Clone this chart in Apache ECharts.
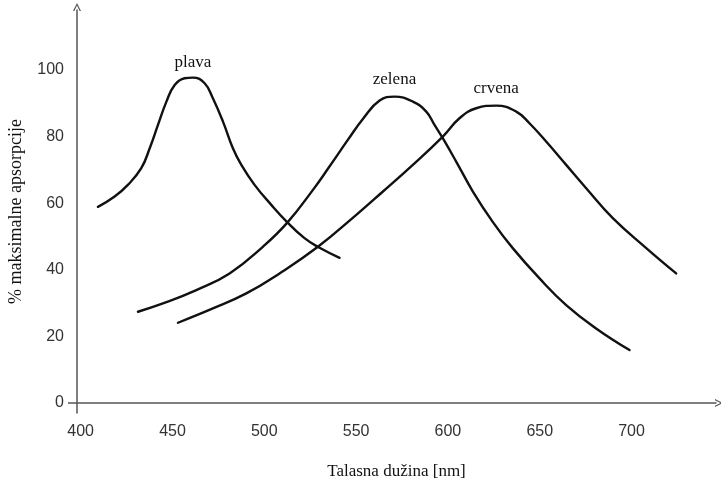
<!DOCTYPE html>
<html>
<head>
<meta charset="utf-8">
<script src="https://cdn.jsdelivr.net/npm/echarts@6/dist/echarts.min.js"></script>
<style>
html,body{margin:0;padding:0;background:#fff;}
#chart{width:721px;height:483px;}
</style>
</head>
<body>
<div id="chart"></div>
<script>
// Wavelength (nm) and % of maximal absorption for each cone type
var plavaX = [409.4, 418.5, 425.7, 433.0, 437.6, 442.1, 446.7, 451.2, 456.6, 461.1, 467.5, 472.0, 477.5, 482.9, 487.5, 494.7, 503.8, 512.3, 521.9, 530.1, 541.0];
var plavaY = [58.9, 62.0, 65.5, 70.5, 76.5, 83.5, 90.5, 95.5, 97.5, 97.7, 96.0, 91.5, 84.5, 76.5, 71.5, 65.5, 59.5, 54.4, 49.5, 46.6, 43.6];

var zelenaX = [431.2, 444.8, 463.0, 481.1, 499.2, 512.3, 526.5, 535.5, 545.5, 554.0, 562.8, 570.9, 580.9, 588.2, 592.7, 597.2, 604.5, 613.6, 624.4, 635.3, 649.9, 664.4, 680.7, 698.9];
var zelenaY = [27.4, 29.9, 33.9, 38.9, 46.9, 54.0, 64.0, 71.0, 79.0, 85.5, 90.8, 92.0, 90.5, 87.5, 83.5, 79.5, 72.5, 63.5, 54.4, 46.5, 37.4, 29.4, 22.4, 15.9];

var crvenaX = [453.0, 472.0, 490.2, 508.3, 529.2, 550.1, 564.0, 580.9, 597.2, 606.3, 615.4, 626.3, 637.2, 644.4, 653.5, 664.4, 675.3, 689.8, 708.0, 724.3];
var crvenaY = [24.1, 28.4, 32.9, 38.9, 46.9, 56.5, 63.2, 71.5, 80.0, 85.5, 88.5, 89.3, 87.5, 84.0, 78.5, 71.5, 64.5, 55.5, 46.5, 38.9];

var seriesNames = ['plava', 'zelena', 'crvena'];
var xTicks = [400, 450, 500, 550, 600, 650, 700];
var yTicks = [0, 20, 40, 60, 80, 100];

function zip(xs, ys) {
  return xs.map(function (x, i) { return [x, ys[i]]; });
}

var chart = echarts.init(document.getElementById('chart'), null, { renderer: 'canvas' });
var chevronUp = 'path://M0,10 L5,0 L10,10 L8.3,10 L5,3.2 L1.7,10 Z';

function mkSeries(name, xs, ys, labelDist) {
  return {
    name: name, type: 'line', smooth: 0.45, showSymbol: false, symbol: 'none',
    lineStyle: { color: '#111', width: 2.4, join: 'round', cap: 'round' },
    data: zip(xs, ys), silent: true, z: 3,
    markPoint: {
      silent: true, symbol: 'circle', symbolSize: 1,
      itemStyle: { color: 'rgba(0,0,0,0)' },
      label: {
        show: true, position: 'top', distance: labelDist, formatter: name,
        fontFamily: 'Liberation Serif', fontSize: 17, color: '#111'
      },
      data: [{ type: 'max' }]
    }
  };
}

chart.setOption({
  animation: false,
  backgroundColor: '#fff',
  grid: { left: 77, right: 5, top: 10, bottom: 70, containLabel: false, outerBoundsMode: 'none' },
  xAxis: {
    type: 'value', min: 398, max: 746,
    name: 'Talasna dužina [nm]', nameLocation: 'middle', nameGap: 50,
    nameTextStyle: { fontFamily: 'Liberation Serif', fontSize: 17, color: '#111' },
    axisLine: { onZero: true, lineStyle: { color: '#555', width: 1.5 },
      symbol: ['none', chevronUp], symbolSize: [9, 8], symbolOffset: [0, 3] },
    axisTick: { show: false },
    splitLine: { show: false },
    axisLabel: { customValues: xTicks, margin: 11, fontFamily: 'Liberation Sans', fontSize: 16, color: '#333' }
  },
  yAxis: {
    type: 'value', min: -3, max: 118,
    name: '% maksimalne apsorpcije', nameLocation: 'middle', nameGap: 52,
    nameTextStyle: { fontFamily: 'Liberation Serif', fontSize: 18, color: '#111' },
    axisLine: { show: true, lineStyle: { color: '#555', width: 1.5 },
      symbol: ['none', chevronUp], symbolSize: [9, 8], symbolOffset: [0, 3] },
    axisTick: { show: false },
    splitLine: { show: false },
    axisLabel: { customValues: yTicks, margin: 13, fontFamily: 'Liberation Sans', fontSize: 16, color: '#333' }
  },
  series: [
    mkSeries(seriesNames[0], plavaX, plavaY, 6),
    mkSeries(seriesNames[1], zelenaX, zelenaY, 8),
    mkSeries(seriesNames[2], crvenaX, crvenaY, 8)
  ]
});

// small overhang of the x axis to the left of the y axis (as in the original)
var origin = chart.convertToPixel({ gridIndex: 0 }, [398, 0]);
chart.setOption({
  graphic: [{
    type: 'line', silent: true,
    shape: { x1: origin[0] - 9, y1: origin[1], x2: origin[0], y2: origin[1] },
    style: { stroke: '#555', lineWidth: 1.5 }
  }]
});
</script>
</body>
</html>
